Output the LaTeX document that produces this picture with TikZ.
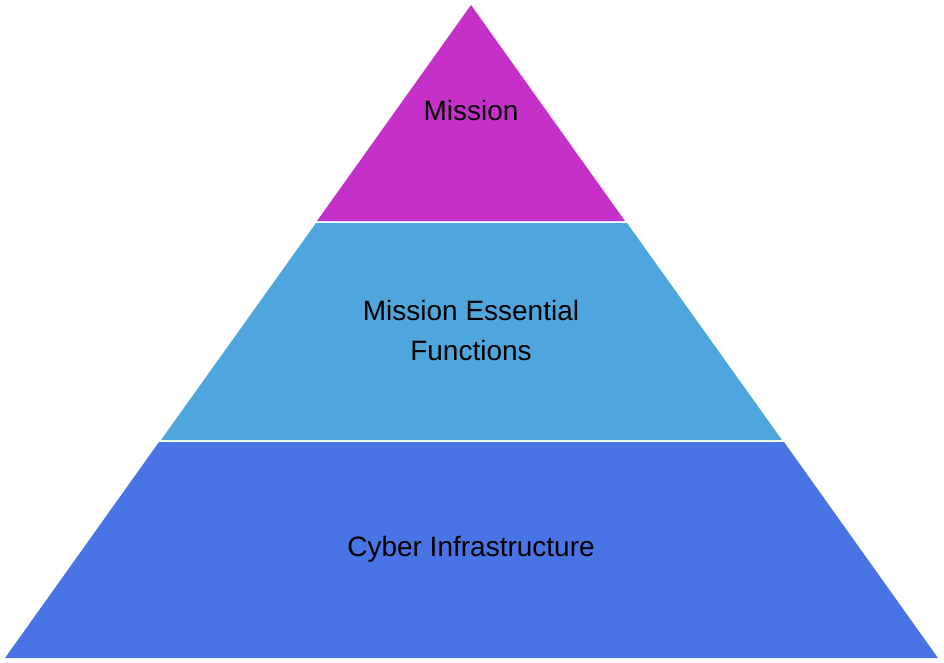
\documentclass[tikz,border=0pt]{standalone}
\usepackage{fontspec}
\setmainfont{Liberation Sans}
\definecolor{ctop}{HTML}{C530C9}
\definecolor{cmid}{HTML}{4EA6DC}
\definecolor{cbot}{HTML}{4874E6}
\begin{document}
\begin{tikzpicture}[x=1pt,y=-1pt,lab/.style={font=\fontsize{28}{40}\selectfont,align=center,text=black}]
\useasboundingbox (0,0) rectangle (944,662);
\fill[ctop] (471,5) -- (625,221) -- (317,221) -- cycle;
\fill[cmid] (316,223) -- (627,223) -- (782,440) -- (161,440) -- cycle;
\fill[cbot] (159,442) -- (784,442) -- (938,658) -- (5,658) -- cycle;
\node[lab] (m) at (471,110) {Mission};
\node[lab] (f) at (471,330) {Mission Essential\\Functions};
\node[lab] (c) at (471,549) {Cyber Infrastructure};
\end{tikzpicture}
\end{document}
